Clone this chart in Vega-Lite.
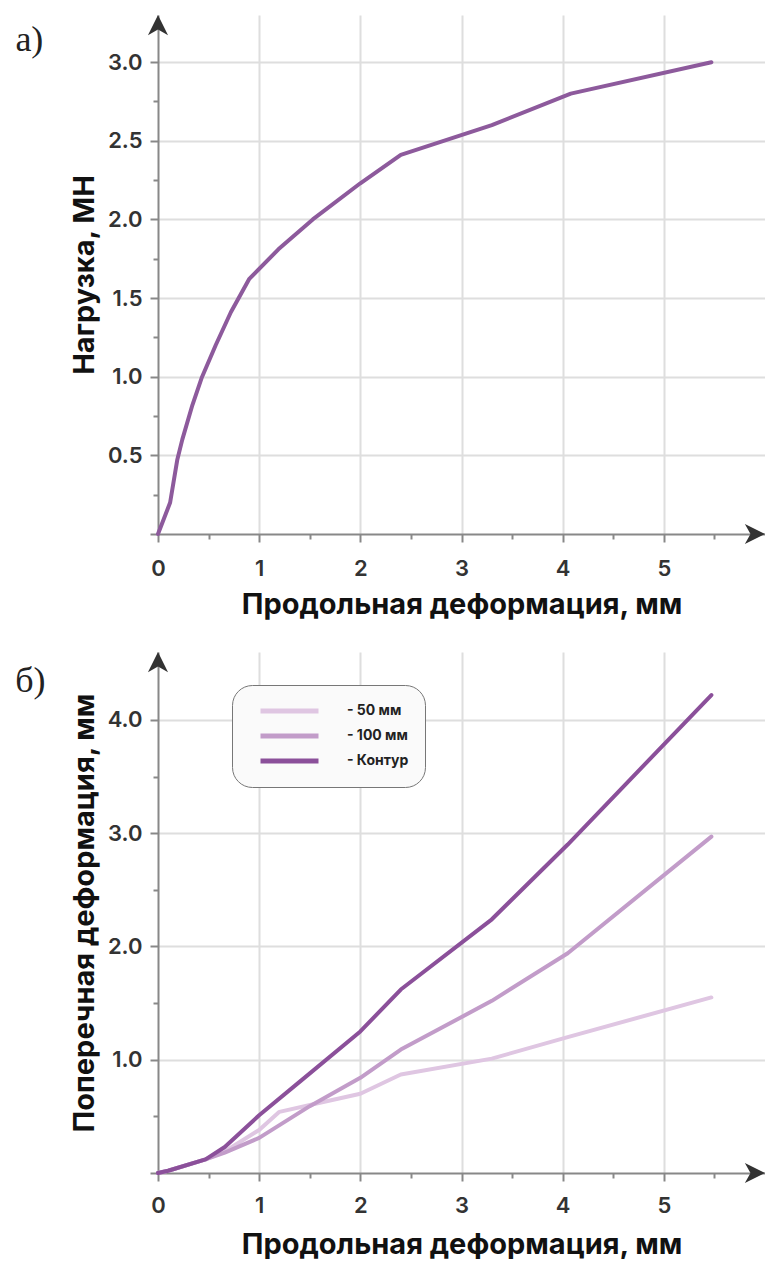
{
  "$schema": "https://vega.github.io/schema/vega-lite/v6.json",
  "background": "white",
  "padding": {"left": 15, "top": 15, "right": 0, "bottom": 0},
  "spacing": 33,
  "resolve": {"legend": {"color": "independent"}},
  "config": {
    "view": {"stroke": null},
    "axis": {
      "labelFont": "Inter", "labelFontSize": 22, "labelFontWeight": 600, "labelColor": "#333",
      "titleFont": "Inter", "titleFontSize": 29, "titleFontWeight": 700, "titleColor": "#111",
      "domainColor": "#888", "domainWidth": 2, "tickColor": "#888", "tickWidth": 2,
      "gridColor": "#dedede", "gridWidth": 2, "labelOverlap": false, "labelFlush": false
    },
    "title": {"font": "Liberation Serif", "fontSize": 36, "fontWeight": "normal", "color": "#222", "anchor": "start", "frame": "bounds", "baseline": "alphabetic", "offset": 0}
  },
  "datasets": {
    "top": [
      {"x": 0, "y": 0}, {"x": 0.12, "y": 0.2}, {"x": 0.19, "y": 0.47}, {"x": 0.24, "y": 0.6},
      {"x": 0.34, "y": 0.82}, {"x": 0.43, "y": 0.99}, {"x": 0.57, "y": 1.2}, {"x": 0.72, "y": 1.41},
      {"x": 0.9, "y": 1.62}, {"x": 1.19, "y": 1.81}, {"x": 1.53, "y": 2.0}, {"x": 2.0, "y": 2.23},
      {"x": 2.4, "y": 2.41}, {"x": 3.3, "y": 2.6}, {"x": 4.08, "y": 2.8}, {"x": 5.47, "y": 3.0}
    ],
    "bottom": [
      {"series": "50 мм", "x": 0, "y": 0}, {"series": "50 мм", "x": 0.1, "y": 0.02}, {"series": "50 мм", "x": 0.47, "y": 0.12},
      {"series": "50 мм", "x": 0.66, "y": 0.19}, {"series": "50 мм", "x": 1.0, "y": 0.38}, {"series": "50 мм", "x": 1.2, "y": 0.54},
      {"series": "50 мм", "x": 1.6, "y": 0.62}, {"series": "50 мм", "x": 2.0, "y": 0.7}, {"series": "50 мм", "x": 2.4, "y": 0.87},
      {"series": "50 мм", "x": 3.3, "y": 1.01}, {"series": "50 мм", "x": 4.05, "y": 1.2}, {"series": "50 мм", "x": 5.47, "y": 1.55},
      {"series": "100 мм", "x": 0, "y": 0}, {"series": "100 мм", "x": 0.1, "y": 0.02}, {"series": "100 мм", "x": 0.47, "y": 0.12},
      {"series": "100 мм", "x": 0.66, "y": 0.18}, {"series": "100 мм", "x": 1.0, "y": 0.31}, {"series": "100 мм", "x": 1.5, "y": 0.59},
      {"series": "100 мм", "x": 2.0, "y": 0.84}, {"series": "100 мм", "x": 2.4, "y": 1.09}, {"series": "100 мм", "x": 3.3, "y": 1.52},
      {"series": "100 мм", "x": 4.05, "y": 1.94}, {"series": "100 мм", "x": 5.47, "y": 2.97},
      {"series": "Контур", "x": 0, "y": 0}, {"series": "Контур", "x": 0.1, "y": 0.02}, {"series": "Контур", "x": 0.47, "y": 0.12},
      {"series": "Контур", "x": 0.66, "y": 0.23}, {"series": "Контур", "x": 1.0, "y": 0.51}, {"series": "Контур", "x": 1.42, "y": 0.82},
      {"series": "Контур", "x": 2.0, "y": 1.25}, {"series": "Контур", "x": 2.4, "y": 1.62}, {"series": "Контур", "x": 3.3, "y": 2.24},
      {"series": "Контур", "x": 4.05, "y": 2.9}, {"series": "Контур", "x": 5.47, "y": 4.22}
    ]
  },
  "vconcat": [
    {
      "width": 607,
      "height": 519,
      "title": {"text": "a)", "dx": -55, "dy": 48},
      "layer": [
        {
          "data": {"name": "top"},
          "mark": {"type": "line", "color": "#8d5a9c", "strokeWidth": 4, "strokeCap": "round", "strokeJoin": "round"},
          "encoding": {
            "x": {
              "field": "x", "type": "quantitative",
              "scale": {"domain": [0, 6], "nice": false, "zero": true},
              "axis": {
                "title": "Продольная деформация, мм",
                "values": [0, 0.5, 1, 1.5, 2, 2.5, 3, 3.5, 4, 4.5, 5, 5.5],
                "labelExpr": "datum.value % 1 === 0 ? format(datum.value, 'd') : ''",
                "grid": true,
                "gridOpacity": {"condition": {"test": "datum.value % 1 !== 0 || datum.value === 0", "value": 0}, "value": 1},
                "tickSize": {"condition": {"test": "datum.value % 1 !== 0", "value": 5}, "value": 8},
                "labelPadding": 16, "titlePadding": 11
              }
            },
            "y": {
              "field": "y", "type": "quantitative",
              "scale": {"domain": [0, 3.3], "nice": false},
              "axis": {
                "title": "Нагрузка, МН",
                "values": [0, 0.25, 0.5, 0.75, 1, 1.25, 1.5, 1.75, 2, 2.25, 2.5, 2.75, 3],
                "labelExpr": "datum.value > 0 && datum.value % 0.5 === 0 ? format(datum.value, '.1f') : ''",
                "grid": true,
                "gridOpacity": {"condition": {"test": "datum.value % 0.5 !== 0 || datum.value === 0", "value": 0}, "value": 1},
                "tickSize": {"condition": {"test": "datum.value % 0.5 !== 0", "value": 5}, "value": 8},
                "labelPadding": 8, "titlePadding": 8
              }
            }
          }
        },
        {
          "data": {"values": [{}]},
          "mark": {"type": "point", "shape": "M0,0L-1.8,-0.9L-1.3,0L-1.8,0.9Z", "filled": true, "color": "#333", "opacity": 1, "size": 500, "clip": false},
          "encoding": {"x": {"datum": 6}, "y": {"datum": 0}}
        },
        {
          "data": {"values": [{}]},
          "mark": {"type": "point", "shape": "M0,0L-0.9,1.8L0,1.3L0.9,1.8Z", "filled": true, "color": "#333", "opacity": 1, "size": 500, "clip": false},
          "encoding": {"x": {"datum": 0}, "y": {"datum": 3.3}}
        }
      ]
    },
    {
      "width": 607,
      "height": 521,
      "title": {"text": "б)", "dx": -55, "dy": 52},
      "layer": [
        {
          "data": {"name": "bottom"},
          "mark": {"type": "line", "strokeWidth": 4, "strokeCap": "round", "strokeJoin": "round"},
          "encoding": {
            "x": {
              "field": "x", "type": "quantitative",
              "scale": {"domain": [0, 6], "nice": false},
              "axis": {
                "title": "Продольная деформация, мм",
                "values": [0, 0.5, 1, 1.5, 2, 2.5, 3, 3.5, 4, 4.5, 5, 5.5],
                "labelExpr": "datum.value % 1 === 0 ? format(datum.value, 'd') : ''",
                "grid": true,
                "gridOpacity": {"condition": {"test": "datum.value % 1 !== 0 || datum.value === 0", "value": 0}, "value": 1},
                "tickSize": {"condition": {"test": "datum.value % 1 !== 0", "value": 5}, "value": 8},
                "labelPadding": 14, "titlePadding": 14
              }
            },
            "y": {
              "field": "y", "type": "quantitative",
              "scale": {"domain": [0, 4.6], "nice": false},
              "axis": {
                "title": "Поперечная деформация, мм",
                "values": [0, 0.5, 1, 1.5, 2, 2.5, 3, 3.5, 4],
                "labelExpr": "datum.value > 0 && datum.value % 1 === 0 ? format(datum.value, '.1f') : ''",
                "grid": true,
                "gridOpacity": {"condition": {"test": "datum.value % 1 !== 0 || datum.value === 0", "value": 0}, "value": 1},
                "tickSize": {"condition": {"test": "datum.value % 1 !== 0", "value": 5}, "value": 8},
                "labelPadding": 8, "titlePadding": 8
              }
            },
            "color": {
              "field": "series", "type": "nominal",
              "scale": {"domain": ["50 мм", "100 мм", "Контур"], "range": ["#dfc6e2", "#c29cc9", "#8b509a"]},
              "legend": {
                "orient": "none", "legendX": 74, "legendY": 33, "title": null,
                "labelExpr": "'- ' + datum.label",
                "symbolType": "stroke", "symbolSize": 3364, "symbolStrokeWidth": 5, "symbolOffset": 10,
                "clipHeight": 20, "rowPadding": 5,
                "labelFont": "Inter", "labelFontSize": 14, "labelFontWeight": 700, "labelColor": "#222",
                "labelOffset": 26,
                "strokeColor": "#777", "fillColor": "#fafafa", "cornerRadius": 20, "padding": 16
              }
            }
          }
        },
        {
          "data": {"values": [{}]},
          "mark": {"type": "point", "shape": "M0,0L-1.8,-0.9L-1.3,0L-1.8,0.9Z", "filled": true, "color": "#333", "opacity": 1, "size": 500, "clip": false},
          "encoding": {"x": {"datum": 6}, "y": {"datum": 0}}
        },
        {
          "data": {"values": [{}]},
          "mark": {"type": "point", "shape": "M0,0L-0.9,1.8L0,1.3L0.9,1.8Z", "filled": true, "color": "#333", "opacity": 1, "size": 500, "clip": false},
          "encoding": {"x": {"datum": 0}, "y": {"datum": 4.6}}
        }
      ]
    }
  ]
}
